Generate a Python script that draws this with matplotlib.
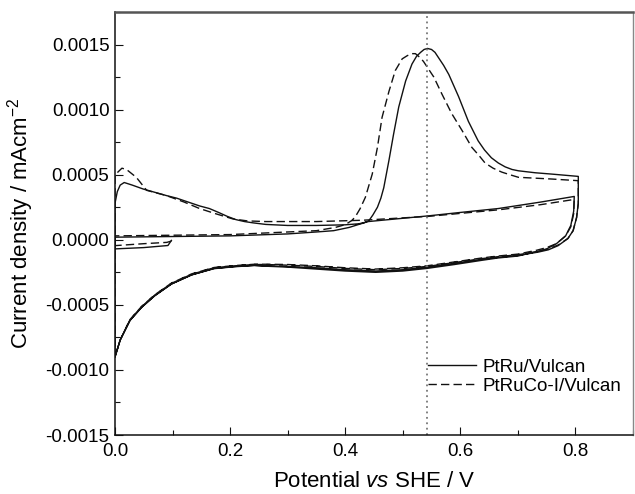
import numpy as np
import matplotlib
matplotlib.use("Agg")
import matplotlib.pyplot as plt
from matplotlib.ticker import MultipleLocator, FormatStrFormatter

plt.rcParams['font.family'] = ['Liberation Sans', 'DejaVu Sans']
plt.rcParams['mathtext.fontset'] = 'custom'
plt.rcParams['mathtext.rm'] = 'Liberation Sans'
plt.rcParams['mathtext.it'] = 'Liberation Sans:italic'
plt.rcParams['mathtext.default'] = 'regular'

# ---- data (potential V, current density) ----
# PtRu/Vulcan, first cycle: start segment + anodic sweep
ptru_init_x = [0.098, 0.092, 0.05, 0.0]
ptru_init_y = [-0.000005, -0.000044, -0.00006, -0.00007]
ptru_fwd1_x = [0.0, 0.1, 0.2, 0.3, 0.35, 0.38, 0.407, 0.425, 0.433, 0.441, 0.448,
               0.456, 0.462, 0.467, 0.476, 0.484, 0.493, 0.505, 0.516, 0.524, 0.531,
               0.537, 0.543, 0.55, 0.556, 0.562, 0.571, 0.58, 0.597, 0.614, 0.631,
               0.642, 0.654, 0.666, 0.678, 0.69, 0.701, 0.73, 0.758, 0.805]
ptru_fwd1_y = [0.00002, 0.000025, 0.00003, 0.000045, 0.00006, 0.00007, 0.000095,
               0.00012, 0.00013, 0.000146, 0.00019, 0.00025, 0.00032, 0.0004,
               0.00061, 0.00081, 0.00102, 0.00122, 0.00135, 0.00141, 0.00144,
               0.001462, 0.00147, 0.001462, 0.00144, 0.0014, 0.00134, 0.00127,
               0.0011, 0.00091, 0.00076, 0.00069, 0.00063, 0.00059, 0.00056,
               0.00054, 0.00053, 0.000515, 0.000505, 0.000487]
# cathodic sweeps
rev1_x = [0.805, 0.802, 0.796, 0.787, 0.77, 0.753, 0.735, 0.70, 0.665, 0.637, 0.59,
          0.542, 0.50, 0.453, 0.40, 0.35, 0.30, 0.262, 0.242, 0.208, 0.172, 0.133,
          0.098, 0.069, 0.046, 0.026, 0.009, 0.0]
rev2_x = [0.798, 0.797, 0.792, 0.783, 0.767, 0.75, 0.733, 0.70, 0.665, 0.637, 0.59,
          0.542, 0.50, 0.453, 0.40, 0.35, 0.30, 0.262, 0.242, 0.208, 0.172, 0.133,
          0.098, 0.069, 0.046, 0.026, 0.009, 0.0]
ptru_rev1_y = [0.00028, 0.00017, 0.00007, 0.00001, -0.000045, -0.000077, -0.000095,
               -0.00012, -0.000135, -0.00015, -0.00018, -0.00021, -0.00023, -0.00024,
               -0.00023, -0.000215, -0.000205, -0.0002, -0.000196, -0.000205,
               -0.00022, -0.00027, -0.00034, -0.00043, -0.00052, -0.00062,
               -0.00077, -0.0009]
# second cycle anodic sweep
ptru_fwd2_x = [0.0, 0.0, 0.004, 0.009, 0.016, 0.03, 0.049, 0.089, 0.107, 0.147,
               0.164, 0.18, 0.195, 0.21, 0.225, 0.24, 0.262, 0.30, 0.35, 0.40,
               0.424, 0.44, 0.545, 0.60, 0.666, 0.74, 0.798]
ptru_fwd2_y = [-0.0009, 0.00028, 0.00037, 0.00042, 0.00044, 0.00042, 0.00039,
               0.00034, 0.00032, 0.00026, 0.00024, 0.00021, 0.00018, 0.000155,
               0.00014, 0.00013, 0.000118, 0.00011, 0.00011, 0.000115, 0.000123,
               0.00014, 0.000184, 0.00021, 0.00024, 0.00029, 0.000333]
ptru_rev2_y = [0.000333, 0.00022, 0.00011, 0.00003, -0.00003, -0.00007, -0.00009,
               -0.000125, -0.00014, -0.000158, -0.00019, -0.00022, -0.00024,
               -0.00025, -0.00024, -0.000225, -0.00021, -0.000203, -0.000198,
               -0.000207, -0.000222, -0.00027, -0.00034, -0.00043, -0.00052,
               -0.00062, -0.00077, -0.0009]

# PtRuCo-I/Vulcan
co_init_x = [0.098, 0.09, 0.05, 0.0]
co_init_y = [-0.00001, -0.00002, -0.00003, -0.000045]
co_fwd1_x = [0.0, 0.1, 0.2, 0.3, 0.35, 0.383, 0.395, 0.405, 0.412, 0.418, 0.426,
             0.435, 0.447, 0.456, 0.464, 0.476, 0.487, 0.499, 0.508, 0.516, 0.522,
             0.53, 0.536, 0.554, 0.568, 0.585, 0.603, 0.62, 0.632, 0.643, 0.657,
             0.672, 0.686, 0.701, 0.758, 0.805]
co_fwd1_y = [0.00003, 0.000035, 0.00004, 0.00006, 0.00007, 0.000095, 0.00011,
             0.00013, 0.00015, 0.00018, 0.00024, 0.000326, 0.000505, 0.00071,
             0.00094, 0.00114, 0.0013, 0.00139, 0.001415, 0.00143, 0.00143,
             0.0014, 0.00137, 0.00125, 0.00112, 0.00097, 0.00084, 0.00071,
             0.00065, 0.00059, 0.00055, 0.00052, 0.0005, 0.00048, 0.000467,
             0.000454]
co_rev1_y = [0.00028, 0.00017, 0.00007, 0.00001, -0.00004, -0.00007, -0.00009,
             -0.000115, -0.00013, -0.000145, -0.000175, -0.000205, -0.00022,
             -0.00023, -0.00022, -0.000205, -0.000195, -0.00019, -0.00019, -0.0002,
             -0.000215, -0.000265, -0.000335, -0.000425, -0.000515, -0.000615,
             -0.00077, -0.0009]
co_fwd2_x = [0.0, 0.0, 0.005, 0.012, 0.02, 0.037, 0.055, 0.089, 0.12, 0.147, 0.175,
             0.205, 0.23, 0.262, 0.35, 0.43, 0.545, 0.666, 0.74, 0.798]
co_fwd2_y = [-0.0009, 0.0005, 0.00052, 0.00055, 0.00054, 0.00048, 0.00038,
             0.00034, 0.00029, 0.00024, 0.0002, 0.00016, 0.000145, 0.00014,
             0.00014, 0.00015, 0.00018, 0.00023, 0.00027, 0.00031]
co_rev2_y = [0.00031, 0.0002, 0.0001, 0.00003, -0.00003, -0.00006, -0.00008,
             -0.00011, -0.000125, -0.00014, -0.00017, -0.0002, -0.000215,
             -0.000225, -0.000215, -0.0002, -0.00019, -0.000188, -0.000188,
             -0.000198, -0.000213, -0.000262, -0.000333, -0.000423, -0.000513,
             -0.000613, -0.00077, -0.0009]

peak_potential = 0.542
labels = ['PtRu/Vulcan', 'PtRuCo-I/Vulcan']

ptru_x = np.concatenate([ptru_init_x, ptru_fwd1_x, rev1_x, ptru_fwd2_x, rev2_x])
ptru_y = np.concatenate([ptru_init_y, ptru_fwd1_y, ptru_rev1_y, ptru_fwd2_y, ptru_rev2_y])
co_x = np.concatenate([co_init_x, co_fwd1_x, rev1_x, co_fwd2_x, rev2_x])
co_y = np.concatenate([co_init_y, co_fwd1_y, co_rev1_y, co_fwd2_y, co_rev2_y])

fig = plt.figure(figsize=(6.35, 4.94), dpi=100)
ax = fig.add_axes([0.1811, 0.1194, 0.8157, 0.8563])

ax.plot(ptru_x, ptru_y, color='#111111', lw=1.0, label=labels[0])
ax.plot(co_x, co_y, color='#111111', lw=1.0, linestyle=(0, (6, 3)), label=labels[1])
ax.axvline(peak_potential, color='#777777', lw=1.3, linestyle=(0, (1, 2)))

ax.set_xlim(0, 0.9)
ax.set_ylim(-0.0015, 0.00175)
ax.xaxis.set_major_locator(MultipleLocator(0.2))
ax.xaxis.set_minor_locator(MultipleLocator(0.1))
ax.yaxis.set_major_locator(MultipleLocator(0.0005))
ax.yaxis.set_minor_locator(MultipleLocator(0.00025))
ax.xaxis.set_major_formatter(FormatStrFormatter('%.1f'))
ax.yaxis.set_major_formatter(FormatStrFormatter('%.4f'))
ax.tick_params(which='both', direction='in', top=False, right=False,
               labelsize=13.5, width=0.8, color='#111111')
ax.tick_params(which='major', length=6)
ax.tick_params(which='minor', length=3.6)
ax.tick_params(axis='x', pad=6)
ax.tick_params(axis='y', pad=4)

for s in ['left', 'bottom']:
    ax.spines[s].set_linewidth(1.1)
    ax.spines[s].set_color('#111111')
ax.spines['top'].set_linewidth(1.8)
ax.spines['top'].set_color('#555555')
ax.spines['right'].set_linewidth(1.0)
ax.spines['right'].set_color('#888888')

ax.set_xlabel('Potential $\\mathit{vs}$ SHE / V', fontsize=16, labelpad=8)
ax.set_ylabel('Current density / mAcm$^{-2}$', fontsize=16, labelpad=7)

ax.legend(loc='upper left', bbox_to_anchor=(0.604, 0.18), frameon=False,
          borderpad=0, borderaxespad=0, handlelength=2.55, handletextpad=0.38,
          labelspacing=0.08, fontsize=13.5)

fig.savefig('out.png', dpi=100)
